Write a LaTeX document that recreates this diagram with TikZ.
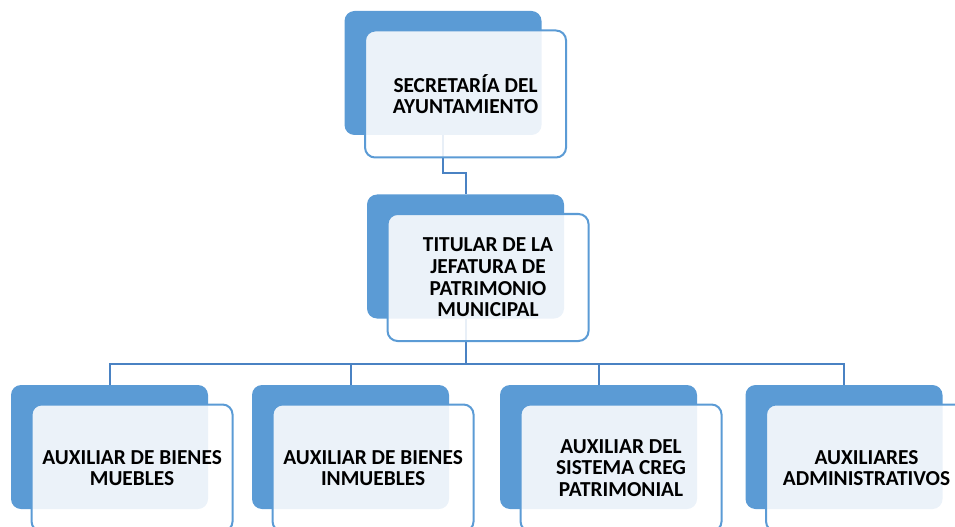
\documentclass[tikz,border=0pt]{standalone}
\usepackage{fontspec}
\setmainfont{Carlito}
\usetikzlibrary{positioning}
\definecolor{orgblue}{HTML}{5B9BD5}
\definecolor{linkblue}{HTML}{4A82C3}

\begin{document}
\begin{tikzpicture}[x=0.75pt,y=-0.75pt,
    back/.style={rectangle,rounded corners=7.5pt,fill=orgblue,minimum width=147.75pt,minimum height=93pt,inner sep=0pt},
    front/.style={rectangle,rounded corners=7.5pt,draw=orgblue,line width=1.5pt,fill=white,fill opacity=0.88,text opacity=1,minimum width=150.75pt,minimum height=95.25pt,inner sep=0pt,align=center,font=\bfseries\fontsize{16}{16.3}\selectfont,xshift=16.9pt,yshift=-15.75pt},
    link/.style={draw=linkblue,line width=1.5pt}]
    \path[use as bounding box,clip] (0,0) rectangle (955,527);
    \node[back] (sec) at (443,73) {};
    \node[back] (jef) at (465.5,256.5) {};
    \node[back] (mue) at (109.5,447) {};
    \node[back] (inm) at (350.5,447) {};
    \node[back] (creg) at (598.5,447) {};
    \node[back] (adm) at (844,447) {};
    \draw[link] (sec.south) -- ++(0,38) -| (jef.north);
    \draw[link] (jef.south) -- ++(0,45) coordinate (bus);
    \foreach \n in {mue,inm,creg,adm}
        \draw[link] (bus) -| (\n.north);
    \node[front] (secf) at (sec) {SECRETARÍA DEL\\AYUNTAMIENTO};
    \node[front] (jeff) at (jef) {TITULAR DE LA\\JEFATURA DE\\PATRIMONIO\\MUNICIPAL};
    \node[front] (muef) at (mue) {AUXILIAR DE BIENES\\MUEBLES};
    \node[front] (inmf) at (inm) {AUXILIAR DE BIENES\\INMUEBLES};
    \node[front] (cregf) at (creg) {AUXILIAR DEL\\SISTEMA CREG\\PATRIMONIAL};
    \node[front] (admf) at (adm) {AUXILIARES\\ADMINISTRATIVOS};
\end{tikzpicture}
\end{document}
